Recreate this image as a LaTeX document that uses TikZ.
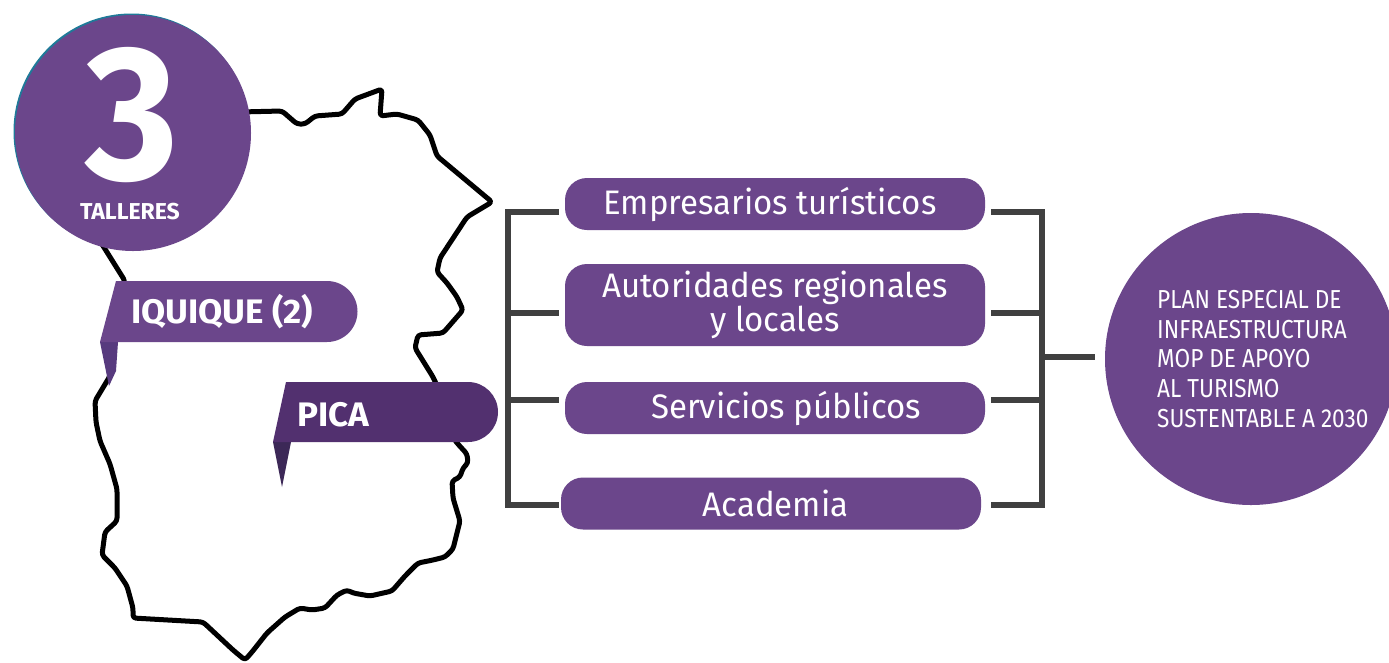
\documentclass[tikz,border=0pt]{standalone}
\usepackage{fontspec}
\usepackage{graphicx}
\setmainfont{Fira Sans}
\newfontfamily\condfont[FakeStretch=0.87]{Fira Sans}
\newfontfamily\boxfont[FakeStretch=0.97]{Fira Sans}
\newfontfamily\bannerfont[FakeStretch=1.03]{Fira Sans}
\definecolor{boxpurple}{HTML}{6B468B}
\definecolor{picapurple}{HTML}{52306F}
\definecolor{iqtail}{HTML}{573A7E}
\definecolor{picatail}{HTML}{3C2857}
\definecolor{edgeteal}{HTML}{1F7A99}
\definecolor{brkgray}{HTML}{404040}
\tikzset{
  stakebox/.style={fill=boxpurple, rounded corners=22pt, minimum width=420pt, minimum height=52pt,
    text=white, font=\boxfont\fontsize{34}{34}\selectfont, align=center, inner sep=0pt},
  brk/.style={draw=brkgray, line width=6.5pt, line join=miter},
  mapline/.style={draw=black, line width=5pt, line join=round, rounded corners=3pt},
  bannertext/.style={anchor=base west, text=white, font=\bannerfont\bfseries\fontsize{34}{34}\selectfont, inner sep=0pt}
}
\begin{document}
\begin{tikzpicture}[x=1pt,y=-1pt]
\useasboundingbox (0,0) rectangle (1389,662);
\fill[white] (0,0) rectangle (1389,662);

% map outline
\draw[mapline] (240,112) -- (282,111) -- (297,124) -- (305,124) -- (315,116) -- (342,114) -- (355,99)
 -- (382,89) -- (380,116) -- (397,114) -- (418,120) -- (430,135) -- (437,156) -- (492,202)
 -- (467,217) -- (440,258) -- (437,272) -- (447,283) -- (457,297) -- (463,310) -- (443,333)
 -- (418,335) -- (415,348) -- (433,377) -- (440,392) -- (455,440) -- (457,443) -- (467,454)
 -- (468,463) -- (463,468) -- (460,477) -- (452,481) -- (453,498) -- (460,521) -- (453,549)
 -- (445,557) -- (433,560) -- (418,563) -- (405,576) -- (392,591) -- (370,596) -- (353,593)
 -- (347,590) -- (337,595) -- (325,608) -- (312,610) -- (300,608) -- (285,617) -- (267,633)
 -- (252,652) -- (245,660) -- (233,650) -- (203,622) -- (133,618) -- (133,608) -- (127,586)
 -- (115,568) -- (102,555) -- (105,532) -- (117,521) -- (117,489) -- (110,464) -- (100,441)
 -- (96,422) -- (95,401) -- (110,376) -- (112,345) -- (118,300) -- (125,281) -- (105,249) -- (98,238);

% top-left circle
\fill[edgeteal] (131.5,131.5) circle (118);
\node[circle, fill=boxpurple, minimum size=236pt, inner sep=0pt] (talleres) at (133,133) {};
\node[text=white, font=\bfseries, inner sep=0pt] (three) at (132,115) {\resizebox{93pt}{132pt}{3}};
\node[text=white, font=\bfseries\fontsize{23}{23}\selectfont, inner sep=0pt] (tall) at (130,212) {TALLERES};

% IQUIQUE banner
\fill[iqtail] (100,342) -- (118,342) -- (116,371) -- (109,386) -- cycle;
\fill[boxpurple] (116,281) -- (327,281) arc[start angle=-90, end angle=90, radius=30.5] -- (100,342) -- cycle;
\node[bannertext] (iq) at (131,323) {IQUIQUE (2)};

% PICA banner
\fill[picatail] (273,442) -- (291,442) -- (282,487) -- cycle;
\fill[picapurple] (286,382) -- (468,382) arc[start angle=-90, end angle=90, radius=30] -- (273,442) -- cycle;
\node[bannertext] (pica) at (297,426) {PICA};

% stakeholder boxes
\node[stakebox] (emp) at (775,204) {Empresarios turísticos\hspace*{10pt}};
\node[stakebox, minimum height=82pt] (aut) at (775,305) {Autoridades regionales\\y locales};
\node[stakebox] (ser) at (775,408) {\hspace*{22pt}Servicios públicos};
\node[stakebox] (aca) at (771,503.5) {\hspace*{9pt}Academia};

% brackets
\coordinate (lt) at (508,212);
\coordinate (lb) at (508,505);
\coordinate (rt) at (1042,212);
\coordinate (rb) at (1042,505);
\coordinate (rm) at (1042,357);
\draw[brk] ([xshift=-6pt]emp.west |- lt) -- (lt) -- (lb) -- ([xshift=-2pt]aca.west |- lb);
\draw[brk] (lt |- 0,313) -- ([xshift=-6pt]aut.west |- 0,313);
\draw[brk] (lt |- 0,400) -- ([xshift=-6pt]ser.west |- 0,400);
\draw[brk] ([xshift=6pt]emp.east |- rt) -- (rt) -- (rb) -- ([xshift=10pt]aca.east |- rb);
\draw[brk] (rt |- 0,313) -- ([xshift=6pt]aut.east |- 0,313);
\draw[brk] (rt |- 0,400) -- ([xshift=6pt]ser.east |- 0,400);

% plan circle
\node[circle, fill=boxpurple, minimum size=292pt, inner sep=0pt] (plan) at (1251,359) {};
\draw[brk] (rm) -- ([xshift=-10pt]plan.west |- rm);
\node[anchor=north west, inner sep=0pt, text=white, align=left,
  font=\condfont\fontsize{26}{29.7}\selectfont] (plantext) at (1157,290)
  {PLAN ESPECIAL DE\\INFRAESTRUCTURA\\MOP DE APOYO\\AL TURISMO\\SUSTENTABLE A 2030};
\end{tikzpicture}
\end{document}
